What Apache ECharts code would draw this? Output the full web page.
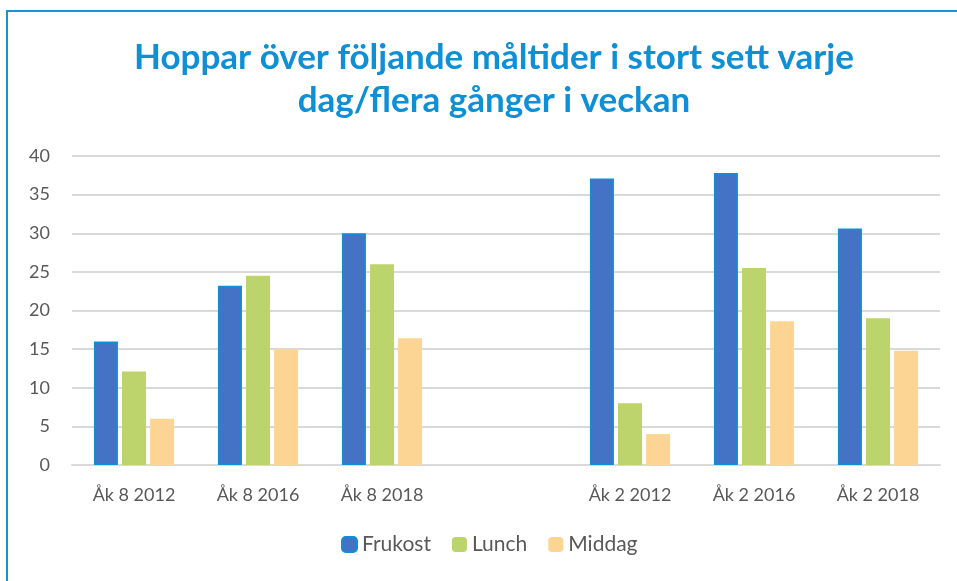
<!DOCTYPE html>
<html>
<head>
<meta charset="utf-8">
<script src="https://cdn.jsdelivr.net/npm/echarts@6/dist/echarts.min.js"></script>
<style>
  html, body { margin: 0; padding: 0; background: #fff; }
  #chart { width: 957px; height: 581px; }
</style>
</head>
<body>
<div id="chart"></div>
<script>
// categories (the empty one is the gap between the two groups)
var categories = ["Åk 8 2012", "Åk 8 2016", "Åk 8 2018", "", "Åk 2 2012", "Åk 2 2016", "Åk 2 2018"];
var frukost = [16, 23.2, 30, null, 37.1, 37.8, 30.6];
var lunch = [12.1, 24.5, 26, null, 8, 25.5, 19];
var middag = [6, 15, 16.4, null, 4, 18.6, 14.8];
var yTicks = [0, 5, 10, 15, 20, 25, 30, 35, 40];

var font = "Lato, 'Open Sans', sans-serif";
var chart = echarts.init(document.getElementById("chart"));

var option = {
  animation: false,
  textStyle: { fontFamily: font },
  title: {
    text: "Hoppar över följande måltider i stort sett varje\ndag/flera gånger i veckan",
    left: 489,
    top: 31,
    textAlign: "center",
    textStyle: {
      color: "#0f8fd5",
      fontSize: 35,
      fontWeight: "bold",
      lineHeight: 43,
      fontFamily: font
    }
  },
  graphic: [
    {
      // chart frame, runs off the right/bottom of the picture
      type: "rect",
      shape: { x: 7, y: 11, width: 1000, height: 1000 },
      style: { fill: "none", stroke: "#1a8fd6", lineWidth: 2 },
      silent: true
    }
  ],
  legend: {
    bottom: 21,
    left: 336,
    itemWidth: 15,
    itemHeight: 15,
    itemGap: 21,
    textStyle: { color: "#595959", fontSize: 21, fontFamily: font },
    data: ["Frukost", "Lunch", "Middag"]
  },
  grid: { left: 72, right: 17, top: 156, bottom: 116 },
  xAxis: {
    type: "category",
    data: categories,
    axisLine: { lineStyle: { color: "#d9d9d9", width: 2 } },
    axisTick: { show: false },
    axisLabel: { color: "#595959", fontSize: 18, margin: 21, fontFamily: font }
  },
  yAxis: {
    type: "value",
    min: yTicks[0],
    max: yTicks[yTicks.length - 1],
    interval: 5,
    axisLine: { show: false },
    axisTick: { show: false },
    axisLabel: { color: "#595959", fontSize: 18, margin: 22, fontFamily: font },
    splitLine: { lineStyle: { color: "#d9d9d9", width: 2 } }
  },
  series: [
    {
      name: "Frukost",
      type: "bar",
      data: frukost,
      barWidth: 24,
      barGap: "17%",
      itemStyle: { color: "#4472c4", borderColor: "#0e8fd6", borderWidth: 1.5 }
    },
    {
      name: "Lunch",
      type: "bar",
      data: lunch,
      barWidth: 24,
      barGap: "17%",
      itemStyle: { color: "#bdd36c" }
    },
    {
      name: "Middag",
      type: "bar",
      data: middag,
      barWidth: 24,
      barGap: "17%",
      itemStyle: { color: "#fcd493" }
    }
  ]
};

chart.setOption(option);
</script>
</body>
</html>
